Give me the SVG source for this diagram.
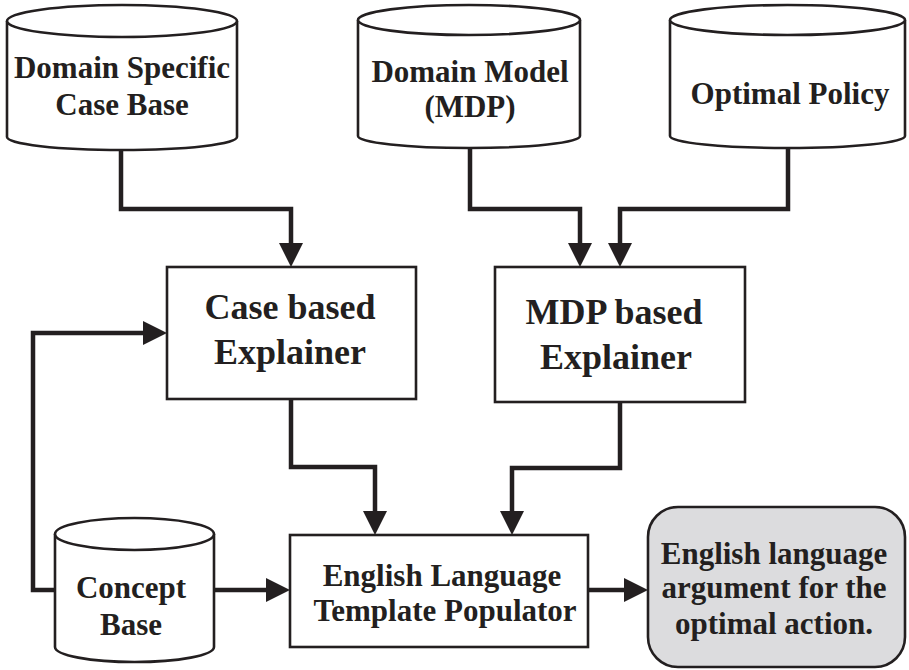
<svg xmlns="http://www.w3.org/2000/svg" width="909" height="670" viewBox="0 0 909 670">
<style>
.shape{fill:#fff;stroke:#231f20;stroke-width:2.6}
.conn{fill:none;stroke:#231f20;stroke-width:4.5;stroke-linejoin:miter}
text{font-family:"Liberation Serif","Times New Roman",serif;font-weight:bold;fill:#231f20;text-anchor:middle}
.t31{font-size:31px}
.t36{font-size:36px}
</style>
<defs>
<marker id="ah" viewBox="0 0 24 24" refX="4" refY="12" markerWidth="24" markerHeight="24" markerUnits="userSpaceOnUse" orient="auto">
<path d="M0,0 L24,12 L0,24 z" fill="#231f20"/>
</marker>
</defs>
<rect width="909" height="670" fill="#fff"/>
<g id="connectors">
<path class="conn" d="M121,150 V209 H291 V247" marker-end="url(#ah)"/>
<path class="conn" d="M470,148 V209 H580 V247" marker-end="url(#ah)"/>
<path class="conn" d="M788,148 V209 H620 V247" marker-end="url(#ah)"/>
<path class="conn" d="M291,399 V467 H375 V515" marker-end="url(#ah)"/>
<path class="conn" d="M620,402 V468 H512 V515" marker-end="url(#ah)"/>
<path class="conn" d="M214,590 H270" marker-end="url(#ah)"/>
<path class="conn" d="M588,590 H628" marker-end="url(#ah)"/>
<path class="conn" d="M55,590 H33 V333 H147" marker-end="url(#ah)"/>
</g>
<g id="domain-case-base">
<path class="shape" d="M7,21 V137 A115,13 0 0 0 237,137 V21"/>
<ellipse class="shape" cx="122" cy="21" rx="115" ry="16"/>
<text class="t31" x="122" y="78">Domain Specific</text>
<text class="t31" x="122" y="115">Case Base</text>
</g>
<g id="domain-model">
<path class="shape" d="M358,20 V136 A111,12 0 0 0 580,136 V20"/>
<ellipse class="shape" cx="469" cy="20" rx="111" ry="15"/>
<text class="t31" x="470" y="82">Domain Model</text>
<text class="t31" x="470" y="117">(MDP)</text>
</g>
<g id="optimal-policy">
<path class="shape" d="M670,20 V136 A117.5,12 0 0 0 905,136 V20"/>
<ellipse class="shape" cx="787.5" cy="20" rx="117.5" ry="15"/>
<text class="t31" x="790" y="104">Optimal Policy</text>
</g>
<g id="case-explainer">
<rect class="shape" x="167" y="267" width="249" height="132"/>
<text class="t36" x="290" y="319">Case based</text>
<text class="t36" x="290" y="364">Explainer</text>
</g>
<g id="mdp-explainer">
<rect class="shape" x="495" y="267" width="250" height="135"/>
<text class="t36" x="614" y="324">MDP based</text>
<text class="t36" x="616" y="369">Explainer</text>
</g>
<g id="concept-base">
<path class="shape" d="M55,534 V647 A79.5,15 0 0 0 214,647 V534"/>
<ellipse class="shape" cx="134.5" cy="534" rx="79.5" ry="16"/>
<text class="t31" x="131" y="598">Concept</text>
<text class="t31" x="131" y="635">Base</text>
</g>
<g id="template-populator">
<rect class="shape" x="290" y="535" width="298" height="112"/>
<text class="t31" x="442" y="586">English Language</text>
<text class="t31" x="445" y="621">Template Populator</text>
</g>
<g id="output">
<rect x="648" y="507" width="257" height="160" rx="30" ry="30" fill="#dcdcde" stroke="#231f20" stroke-width="2.6"/>
<text class="t31" x="774" y="564">English language</text>
<text class="t31" x="774" y="598">argument for the</text>
<text class="t31" x="774" y="634">optimal action.</text>
</g>
</svg>
